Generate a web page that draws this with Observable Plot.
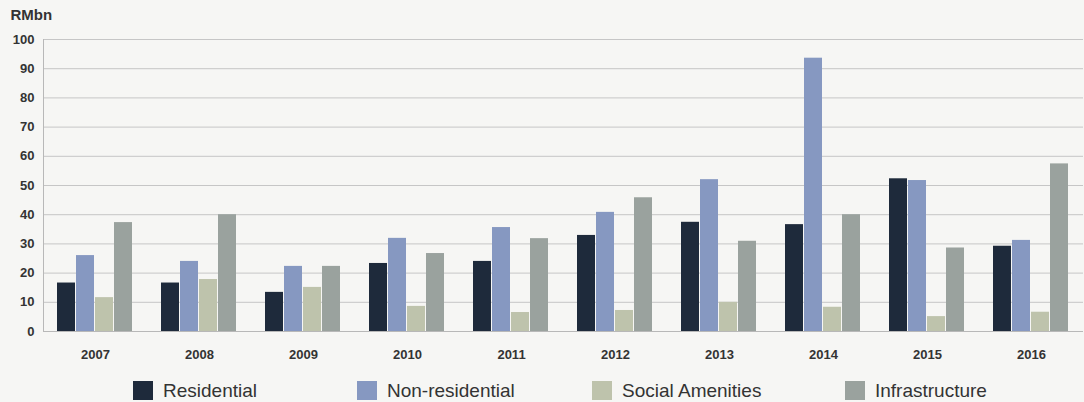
<!DOCTYPE html>
<html>
<head>
<meta charset="utf-8">
<script src="https://cdn.jsdelivr.net/npm/d3@7"></script>
<script src="https://cdn.jsdelivr.net/npm/@observablehq/plot@0.6"></script>
<style>
  html, body { margin: 0; padding: 0; background: #f6f6f4; }
  #wrap { position: relative; width: 1084px; height: 402px; font-family: "Liberation Sans", Arial, sans-serif; }
  #legend { position: absolute; left: 0; top: 381px; height: 20px; width: 1084px; }
  .item { position: absolute; top: 0; display: flex; align-items: center; height: 19px; }
  .sw { width: 20px; height: 19px; margin-right: 10px; }
  .lb { font-size: 19px; color: #333; line-height: 19px; }
</style>
</head>
<body>
<div id="wrap"><div id="chart"></div><div id="legend"></div></div>
<script>
const years = ["2007","2008","2009","2010","2011","2012","2013","2014","2015","2016"];
const series = ["Residential","Non-residential","Social Amenities","Infrastructure"];
const residential     = [16.6, 16.6, 13.4, 23.3, 24.0, 32.9, 37.4, 36.6, 52.3, 29.2];
const nonResidential  = [26.0, 24.0, 22.3, 31.9, 35.6, 40.8, 52.0, 93.6, 51.7, 31.2];
const socialAmenities = [11.6, 17.8, 15.1,  8.6,  6.5,  7.2, 10.0,  8.3,  5.1,  6.6];
const infrastructure  = [37.3, 40.0, 22.3, 26.7, 31.8, 45.8, 30.9, 40.0, 28.6, 57.4];
const yTicks = [0,10,20,30,40,50,60,70,80,90,100];
const colors = ["#1e2a3b","#8698c1","#bec3ac","#9aa29e"];

const valuesBySeries = [residential, nonResidential, socialAmenities, infrastructure];
const table = [];
years.forEach((y, i) => series.forEach((s, j) => table.push({year: y, series: s, value: valuesBySeries[j][i]})));

const chart = Plot.plot({
  width: 1084,
  height: 370,
  marginTop: 39,
  marginBottom: 39,
  marginLeft: 42,
  marginRight: 0,
  style: {background: "transparent", fontFamily: "Liberation Sans, Arial, sans-serif", color: "#333"},
  fx: {domain: years, padding: 0, axis: null},
  x: {domain: series, paddingInner: 0.05, paddingOuter: 0.685, axis: null},
  y: {domain: [0, 100], axis: null},
  color: {domain: series, range: colors},
  marks: [
    Plot.gridY(yTicks, {stroke: "#c6c6c6", strokeOpacity: 1}),
    Plot.ruleY([0], {stroke: "#b8b8b8"}),
    Plot.frame({anchor: "left", fx: ["2007"], stroke: "#b8b8b8"}),
    Plot.barY(table, {fx: "year", x: "series", y: "value", fill: "series"}),
    Plot.axisY(yTicks, {tickSize: 0, tickPadding: 9, fontSize: 13, fontWeight: "bold", fill: "#333", label: null}),
    Plot.axisFx({anchor: "bottom", tickSize: 0, tickPadding: 18, fontSize: 13, fontWeight: "bold", fill: "#333", label: null}),
    Plot.text(["RMbn"], {fx: ["2007"], frameAnchor: "top-left", dx: -33, dy: -24, textAnchor: "start", lineAnchor: "middle", fontSize: 15, fontWeight: "bold", fill: "#333"})
  ]
});
document.getElementById("chart").appendChild(chart);

const legendPos = [133, 357, 592, 845];
const legend = document.getElementById("legend");
series.forEach((s, i) => {
  const item = document.createElement("div");
  item.className = "item";
  item.style.left = legendPos[i] + "px";
  const sw = document.createElement("div");
  sw.className = "sw";
  sw.style.background = colors[i];
  const lb = document.createElement("span");
  lb.className = "lb";
  lb.textContent = s;
  item.appendChild(sw);
  item.appendChild(lb);
  legend.appendChild(item);
});
</script>
</body>
</html>
